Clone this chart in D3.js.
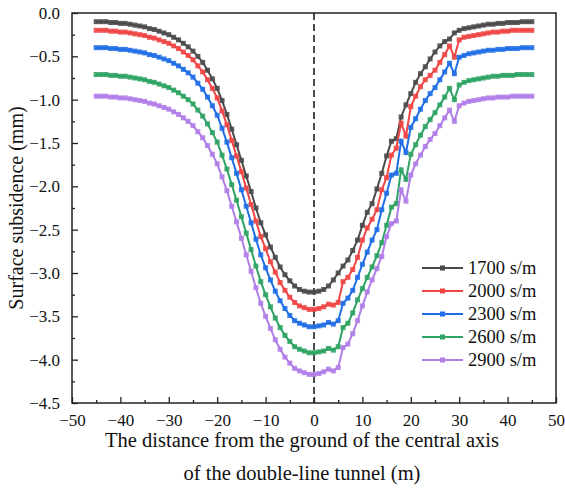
<!DOCTYPE html>
<html><head><meta charset="utf-8">
<script src="https://cdn.jsdelivr.net/npm/d3@7"></script>
<style>body{margin:0;background:#fff}svg{display:block}text{font-family:"Liberation Serif","DejaVu Serif",serif;fill:#111}</style>
</head><body><svg id="c" width="565" height="492"></svg>
<script>
const xValues = [-45,-44,-43,-42,-41,-40,-39,-38,-37,-36,-35,-34,-33,-32,-31,-30,-29,-28,-27,-26,-25,-24,-23,-22,-21,-20,-19,-18,-17,-16,-15,-14,-13,-12,-11,-10,-9,-8,-7,-6,-5,-4,-3,-2,-1,0,1,2,3,4,5,6,7,8,9,10,11,12,13,14,15,16,17,18,19,20,21,22,23,24,25,26,27,28,29,30,31,32,33,34,35,36,37,38,39,40,41,42,43,44,45];
const s1700 = [-0.10,-0.10,-0.10,-0.11,-0.11,-0.12,-0.12,-0.13,-0.14,-0.15,-0.16,-0.18,-0.19,-0.21,-0.23,-0.25,-0.28,-0.31,-0.35,-0.39,-0.44,-0.50,-0.57,-0.66,-0.76,-0.87,-1.01,-1.17,-1.34,-1.52,-1.70,-1.88,-2.06,-2.25,-2.42,-2.56,-2.70,-2.82,-2.93,-3.02,-3.09,-3.15,-3.19,-3.21,-3.22,-3.22,
 -3.21,-3.19,-3.15,-3.08,-3.00,-2.92,-2.85,-2.74,-2.62,-2.45,-2.30,-2.20,-2.03,-1.85,-1.65,-1.48,-1.45,-1.20,-1.06,-0.93,-0.80,-0.70,-0.62,-0.53,-0.45,-0.38,-0.33,-0.30,-0.23,-0.20,-0.18,-0.17,-0.16,-0.15,-0.14,-0.13,-0.13,-0.12,-0.12,-0.11,-0.11,-0.11,-0.10,-0.10,-0.10];
const s2000 = [-0.20,-0.20,-0.20,-0.21,-0.21,-0.22,-0.22,-0.23,-0.24,-0.25,-0.26,-0.28,-0.29,-0.31,-0.33,-0.35,-0.38,-0.41,-0.45,-0.49,-0.54,-0.61,-0.68,-0.77,-0.87,-0.98,-1.13,-1.29,-1.47,-1.65,-1.83,-2.02,-2.21,-2.40,-2.58,-2.72,-2.87,-2.99,-3.11,-3.20,-3.28,-3.34,-3.38,-3.40,-3.42,-3.42,
 -3.41,-3.39,-3.36,-3.37,-3.34,-3.10,-3.05,-2.96,-2.82,-2.62,-2.48,-2.38,-2.27,-2.04,-1.90,-1.64,-1.56,-1.27,-1.42,-1.08,-0.96,-0.85,-0.77,-0.72,-0.66,-0.57,-0.48,-0.38,-0.51,-0.31,-0.28,-0.27,-0.26,-0.25,-0.24,-0.23,-0.22,-0.22,-0.21,-0.21,-0.20,-0.20,-0.20,-0.20,-0.20];
const s2300 = [-0.40,-0.40,-0.40,-0.41,-0.41,-0.42,-0.42,-0.43,-0.44,-0.45,-0.46,-0.48,-0.49,-0.51,-0.53,-0.55,-0.58,-0.61,-0.65,-0.69,-0.74,-0.81,-0.88,-0.97,-1.07,-1.18,-1.33,-1.49,-1.67,-1.85,-2.04,-2.23,-2.42,-2.61,-2.79,-2.94,-3.08,-3.21,-3.32,-3.41,-3.49,-3.55,-3.58,-3.60,-3.62,-3.62,
 -3.61,-3.60,-3.57,-3.59,-3.55,-3.35,-3.29,-3.20,-3.05,-2.90,-2.76,-2.62,-2.50,-2.27,-2.08,-1.87,-1.85,-1.48,-1.61,-1.32,-1.22,-1.11,-1.01,-0.93,-0.86,-0.77,-0.68,-0.58,-0.70,-0.51,-0.49,-0.47,-0.46,-0.45,-0.44,-0.43,-0.43,-0.42,-0.42,-0.41,-0.41,-0.41,-0.40,-0.40,-0.40];
const s2600 = [-0.71,-0.71,-0.71,-0.72,-0.72,-0.73,-0.73,-0.74,-0.75,-0.76,-0.77,-0.79,-0.80,-0.82,-0.84,-0.86,-0.89,-0.92,-0.96,-1.00,-1.05,-1.12,-1.19,-1.28,-1.38,-1.49,-1.64,-1.80,-1.98,-2.16,-2.35,-2.54,-2.73,-2.92,-3.10,-3.25,-3.39,-3.52,-3.63,-3.72,-3.79,-3.85,-3.88,-3.90,-3.92,-3.92,
 -3.91,-3.90,-3.87,-3.89,-3.85,-3.63,-3.58,-3.46,-3.31,-3.18,-3.05,-2.93,-2.80,-2.65,-2.45,-2.24,-2.20,-1.81,-1.92,-1.63,-1.52,-1.41,-1.31,-1.23,-1.15,-1.06,-0.97,-0.87,-1.00,-0.83,-0.80,-0.78,-0.77,-0.76,-0.75,-0.74,-0.73,-0.73,-0.72,-0.72,-0.72,-0.71,-0.71,-0.71,-0.71];
const s2900 = [-0.96,-0.96,-0.96,-0.97,-0.97,-0.98,-0.98,-0.99,-1.00,-1.01,-1.02,-1.04,-1.05,-1.07,-1.09,-1.11,-1.14,-1.17,-1.21,-1.25,-1.30,-1.37,-1.44,-1.53,-1.63,-1.74,-1.89,-2.05,-2.23,-2.41,-2.60,-2.79,-2.98,-3.17,-3.35,-3.50,-3.64,-3.77,-3.88,-3.97,-4.04,-4.10,-4.13,-4.15,-4.17,-4.17,
 -4.16,-4.14,-4.11,-4.13,-4.09,-3.86,-3.82,-3.70,-3.55,-3.38,-3.22,-3.08,-2.95,-2.81,-2.58,-2.43,-2.40,-2.04,-2.17,-1.87,-1.74,-1.64,-1.54,-1.46,-1.39,-1.30,-1.21,-1.12,-1.25,-1.07,-1.04,-1.02,-1.01,-1.00,-0.99,-0.98,-0.98,-0.97,-0.97,-0.97,-0.96,-0.96,-0.96,-0.96,-0.96];
const seriesNames = ["1700 s/m","2000 s/m","2300 s/m","2600 s/m","2900 s/m"];
const seriesColors = ["#4a4a4a","#f04545","#1f6ee6","#2ea363","#b07de8"];
const xTicks = [-50,-40,-30,-20,-10,0,10,20,30,40,50];
const yTicks = [0,-0.5,-1,-1.5,-2,-2.5,-3,-3.5,-4,-4.5];

const allSeries = [s1700,s2000,s2300,s2600,s2900];
const svg = d3.select("#c");
const L=72,R=556,T=13,B=403;
const x = d3.scaleLinear().domain([-50,50]).range([L,R]);
const y = d3.scaleLinear().domain([-4.5,0]).range([B,T]);

// dashed center line
svg.append("line").attr("x1",x(0)).attr("x2",x(0)).attr("y1",T).attr("y2",B)
  .attr("stroke","#111").attr("stroke-width",1.5).attr("stroke-dasharray","7,4");

// series
const line = d3.line().x((d,i)=>x(xValues[i])).y(d=>y(d));
allSeries.forEach((s,k)=>{
  const g = svg.append("g");
  g.append("path").datum(s).attr("d",line).attr("fill","none")
    .attr("stroke",seriesColors[k]).attr("stroke-width",2);
  g.selectAll("rect").data(s).join("rect")
    .attr("x",(d,i)=>x(xValues[i])-2.5).attr("y",d=>y(d)-2.5)
    .attr("width",5).attr("height",5).attr("fill",seriesColors[k]).attr("opacity",0.9);
});

// axes
const fmt = d => d===0 ? "0.0" : d3.format(".1f")(d);
const yAxis = d3.axisLeft(y).tickValues(yTicks).tickSizeInner(-6).tickSizeOuter(0).tickPadding(12).tickFormat(fmt);
const yMinor = d3.axisLeft(y).tickValues(d3.range(-4.25,0,0.5)).tickSizeInner(-3).tickSizeOuter(0).tickFormat("");
const xAxis = d3.axisBottom(x).tickValues(xTicks).tickSizeInner(-6).tickSizeOuter(0).tickPadding(11).tickFormat(d3.format("d"));
const xMinor = d3.axisBottom(x).tickValues(d3.range(-45,50,10)).tickSizeInner(-3).tickSizeOuter(0).tickFormat("");
[ [yAxis,`translate(${L},0)`],[yMinor,`translate(${L},0)`],[xAxis,`translate(0,${B})`],[xMinor,`translate(0,${B})`] ].forEach(([ax,tr])=>{
  const g = svg.append("g").attr("transform",tr).call(ax);
  g.select(".domain").remove();
  g.selectAll("line").attr("stroke","#222").attr("stroke-width",1.3);
  g.selectAll("text").style("font-family",'"Liberation Serif",serif').style("font-size","17px").attr("fill","#222");
});
// frame
svg.append("rect").attr("x",L).attr("y",T).attr("width",R-L).attr("height",B-T)
  .attr("fill","none").attr("stroke","#222").attr("stroke-width",1.5);

// titles
svg.append("text").attr("transform",`translate(23,208) rotate(-90)`).attr("text-anchor","middle")
  .style("font-size","20px").text("Surface subsidence (mm)");
svg.append("text").attr("x",302).attr("y",447).attr("text-anchor","middle")
  .style("font-size","20.5px").text("The distance from the ground of the central axis");
svg.append("text").attr("x",302).attr("y",480).attr("text-anchor","middle")
  .style("font-size","20.5px").text("of the double-line tunnel (m)");

// legend
const lg = svg.append("g");
seriesNames.forEach((n,k)=>{
  const yy = 268 + k*23;
  lg.append("line").attr("x1",422).attr("x2",463).attr("y1",yy).attr("y2",yy)
    .attr("stroke",seriesColors[k]).attr("stroke-width",2);
  lg.append("rect").attr("x",440).attr("y",yy-2.5).attr("width",5).attr("height",5).attr("fill",seriesColors[k]);
  lg.append("text").attr("x",468).attr("y",yy+6).style("font-size","18.5px").text(n);
});
</script></body></html>
